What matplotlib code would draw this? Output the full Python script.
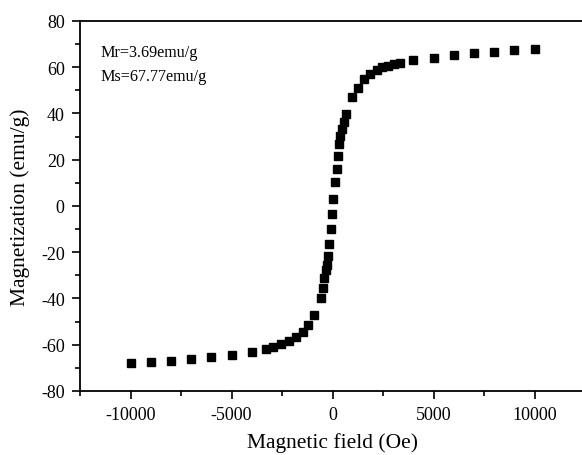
import matplotlib
matplotlib.use('Agg')
import matplotlib.pyplot as plt
from matplotlib.ticker import MultipleLocator

plt.rcParams['font.family'] = ['Liberation Serif', 'DejaVu Serif']
plt.rcParams['axes.unicode_minus'] = False  # plain hyphen as minus sign

# field (Oe) and magnetization (emu/g)
field = [-10000, -9000, -8000, -7000, -6000, -5000, -4000,
         -3300, -2970, -2560, -2160, -1820, -1485, -1190, -910,
         -580, -495, -416, -330, -260, -218, -168, -84, -30,
         15, 115, 200, 250, 310, 360, 460, 560, 660,
         955, 1250, 1550, 1850, 2180, 2470, 2740, 3030, 3330,
         4000, 5000, 6000, 7000, 8000, 9000, 10000]
magn = [-68.0, -67.5, -66.9, -66.3, -65.4, -64.6, -63.1,
        -62.0, -61.0, -59.9, -58.4, -56.7, -54.5, -51.6, -47.3,
        -39.6, -35.3, -31.0, -27.5, -25.5, -21.6, -16.3, -10.1, -3.6,
        2.9, 10.2, 16.2, 21.5, 26.7, 30.2, 33.2, 36.1, 39.7,
        47.1, 51.2, 54.8, 57.2, 58.7, 59.9, 60.6, 61.3, 62.0,
        63.1, 64.2, 65.2, 66.0, 66.8, 67.3, 67.8]

notes = ['Mr=3.69emu/g', 'Ms=67.77emu/g']

fig = plt.figure(figsize=(5.82, 4.56), dpi=100)
ax = fig.add_axes([0.1375, 0.1404, 0.8677, 0.8114])

ax.plot(field, magn, 's', color='black', markersize=6.2)

ax.set_xlim(-12500, 12500)
ax.set_ylim(-80, 80)
ax.xaxis.set_major_locator(MultipleLocator(5000))
ax.xaxis.set_minor_locator(MultipleLocator(2500))
ax.yaxis.set_major_locator(MultipleLocator(20))
ax.yaxis.set_minor_locator(MultipleLocator(10))
ax.tick_params(which='major', direction='out', length=6, width=1.2, labelsize=13, colors='black', pad=5)
ax.tick_params(which='minor', direction='out', length=3.5, width=1.2)
for s in ax.spines.values():
	s.set_linewidth(1.3)

ax.set_xlabel('Magnetic field (Oe)', fontsize=15.5, labelpad=6.5)
ax.set_ylabel('Magnetization (emu/g)', fontsize=15.5, labelpad=8)

ax.text(0.041, 0.916, notes[0], transform=ax.transAxes, fontsize=11.6, va='center')
ax.text(0.041, 0.851, notes[1], transform=ax.transAxes, fontsize=11.6, va='center')

fig.savefig('out.png', dpi=100)
